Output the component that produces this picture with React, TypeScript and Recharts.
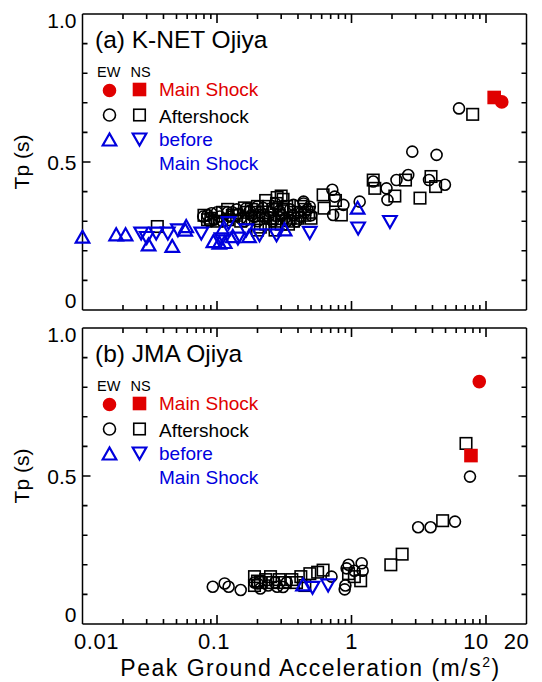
import React from 'react';
import { ScatterChart, Scatter, XAxis, YAxis } from 'recharts';

// [PGA (m/s^2), Tp (s)]
// (a) K-NET Ojiya
const knetMainEW = [[13.1, 0.703]];
const knetMainNS = [[11.5, 0.718]];
const knetAfterEW = [
  [6.3, 0.681], [2.83, 0.535], [4.29, 0.524], [4.95, 0.423], [3.77, 0.439], [2.64, 0.456],
  [2.16, 0.439], [1.82, 0.411], [1.85, 0.372], [1.45, 0.434], [1.15, 0.366], [0.72, 0.406],
  [0.75, 0.383], [0.87, 0.355], [0.73, 0.321], [0.44, 0.366], [0.49, 0.349], [0.079, 0.316],
  [0.091, 0.327], [0.088, 0.299], [0.105, 0.316], [0.12, 0.33], [0.13, 0.33], [0.15, 0.31],
  [0.165, 0.344], [0.21, 0.33], [0.23, 0.31], [0.28, 0.349], [0.33, 0.3], [0.37, 0.355],
  [0.37, 0.32], [0.44, 0.36], [0.47, 0.34], [0.18, 0.32], [0.25, 0.33], [0.3, 0.32],
  [0.4, 0.33], [0.095, 0.305], [0.14, 0.34], [0.2, 0.3], [0.1, 0.33], [0.11, 0.3],
  [0.125, 0.315], [0.145, 0.325], [0.16, 0.3], [0.175, 0.335], [0.19, 0.315], [0.22, 0.345],
  [0.24, 0.315], [0.26, 0.3], [0.29, 0.335], [0.32, 0.31], [0.35, 0.34], [0.39, 0.3],
  [0.42, 0.315], [0.45, 0.33], [0.5, 0.32], [0.27, 0.36], [0.2, 0.35], [0.085, 0.32],
];
const knetAfterNS = [
  [7.96, 0.661], [3.9, 0.451], [4.22, 0.417], [3.23, 0.378], [2.52, 0.439], [2.1, 0.385],
  [1.45, 0.439], [1.49, 0.411], [0.615, 0.389], [0.625, 0.344], [0.76, 0.37], [0.84, 0.321],
  [0.31, 0.374], [0.277, 0.36], [0.036, 0.282], [0.08, 0.32], [0.11, 0.33], [0.13, 0.32],
  [0.165, 0.33], [0.2, 0.35], [0.22, 0.32], [0.26, 0.34], [0.29, 0.32], [0.37, 0.33],
  [0.45, 0.32], [0.45, 0.34], [0.21, 0.28], [0.37, 0.3], [0.23, 0.37], [0.1, 0.3],
  [0.15, 0.3], [0.3, 0.29], [0.18, 0.34], [0.33, 0.35], [0.25, 0.31], [0.4, 0.31],
  [0.2, 0.27], [0.27, 0.27], [0.09, 0.31], [0.12, 0.305], [0.14, 0.32], [0.17, 0.31],
  [0.19, 0.33], [0.24, 0.35], [0.27, 0.3], [0.31, 0.34], [0.35, 0.31], [0.42, 0.35],
  [0.48, 0.33], [0.28, 0.38], [0.3, 0.385], [0.16, 0.345], [0.12, 0.34], [0.085, 0.305],
  [0.5, 0.31], [0.34, 0.29], [0.23, 0.29],
];
const knetBeforeEW = [
  [0.01, 0.246], [0.0178, 0.254], [0.0209, 0.254], [0.031, 0.22], [0.0465, 0.215], [0.059, 0.282],
  [0.058, 0.27], [0.094, 0.231], [0.104, 0.226], [0.114, 0.228], [0.11, 0.271], [0.131, 0.248],
  [0.173, 0.248], [0.318, 0.271], [1.11, 0.344],
];
const knetBeforeNS = [
  [0.0273, 0.26], [0.0353, 0.26], [0.0431, 0.26], [0.0512, 0.271], [0.0764, 0.26], [0.122, 0.295],
  [0.108, 0.24], [0.143, 0.243], [0.165, 0.271], [0.207, 0.254], [0.277, 0.254], [0.489, 0.262],
  [1.12, 0.277], [1.93, 0.299], [0.03, 0.245],
];

// (b) JMA Ojiya
const jmaMainEW = [[8.91, 0.819]];
const jmaMainNS = [[7.73, 0.569]];
const jmaAfterEW = [
  [7.6, 0.498], [5.88, 0.346], [3.87, 0.327], [3.13, 0.327], [1.19, 0.205], [1.21, 0.18],
  [0.92, 0.188], [0.89, 0.117], [0.093, 0.126], [0.114, 0.137], [0.122, 0.126], [0.15, 0.115],
  [0.28, 0.126], [0.2, 0.137], [0.71, 0.16], [1.05, 0.18], [0.95, 0.2], [0.24, 0.13],
  [0.33, 0.14], [0.9, 0.13], [0.21, 0.12], [0.27, 0.14], [0.31, 0.125], [0.19, 0.14],
];
const jmaAfterNS = [
  [7.1, 0.61], [4.76, 0.349], [2.38, 0.236], [1.96, 0.2], [1.17, 0.146], [0.95, 0.17],
  [0.615, 0.182], [0.49, 0.17], [0.19, 0.16], [0.19, 0.13], [0.23, 0.15], [0.29, 0.15],
  [0.36, 0.15], [0.39, 0.14], [0.26, 0.14], [0.56, 0.175], [0.21, 0.14], [1.05, 0.16],
  [0.2, 0.145], [0.25, 0.16], [0.32, 0.14], [0.42, 0.16], [0.45, 0.13],
];
const jmaBeforeEW = [[0.436, 0.132]];
const jmaBeforeNS = [[0.513, 0.124], [0.67, 0.132]];

// axis ticks
const xLabelTicks = [0.01, 0.1, 1, 10, 20];
const xMajorTicks = [0.1, 1, 10];
const xMinorTicks = [0.02, 0.03, 0.04, 0.05, 0.06, 0.07, 0.08, 0.09, 0.2, 0.3, 0.4, 0.5, 0.6, 0.7, 0.8, 0.9, 2, 3, 4, 5, 6, 7, 8, 9];
const yLabelTicks = [0, 0.5, 1];
const yMajorTicks = [0.5];
const yMinorTicks = [0.1, 0.2, 0.3, 0.4, 0.6, 0.7, 0.8, 0.9];
const yLabels: Record<string, string> = { '0': '0', '0.5': '0.5', '1': '1.0' };
// nudges of the tick labels, as in the original figure
const xLabelShift: Record<string, number> = { '0.01': 14, '0.1': -3, '1': 0, '10': -10, '20': -10 };
const yLabelShift: Record<string, number> = { '0': -9.5, '0.5': 0, '1': 6 };

const X_MIN = 0.01;
const X_MAX = 20;

const RED = '#e00000';
const BLUE = '#0000dd';
const FONT = '"Liberation Sans", Arial, sans-serif';

const pts = (arr: number[][]) => arr.map(([x, y]) => ({ x, y }));

// tick positions along the frame
const bottomMajor = xMajorTicks.map((x) => ({ x, y: 0 }));
const bottomMinor = xMinorTicks.map((x) => ({ x, y: 0 }));
const topMajor = xMajorTicks.map((x) => ({ x, y: 1 }));
const topMinor = xMinorTicks.map((x) => ({ x, y: 1 }));
const leftMajor = yMajorTicks.map((y) => ({ x: X_MIN, y }));
const leftMinor = yMinorTicks.map((y) => ({ x: X_MIN, y }));
const rightMajor = yMajorTicks.map((y) => ({ x: X_MAX, y }));
const rightMinor = yMinorTicks.map((y) => ({ x: X_MAX, y }));

const circle = (fill: string, stroke: string, r: number) => (p: any) => (
  <circle cx={p.cx} cy={p.cy} r={r} fill={fill} stroke={stroke} strokeWidth={1.6} />
);
const square = (fill: string, stroke: string, s: number) => (p: any) => (
  <rect x={p.cx - s / 2} y={p.cy - s / 2} width={s} height={s} fill={fill} stroke={stroke} strokeWidth={1.6} />
);
const triUp = (p: any) => (
  <polygon points={`${p.cx},${p.cy - 6.5} ${p.cx - 6.8},${p.cy + 5.5} ${p.cx + 6.8},${p.cy + 5.5}`} fill="none" stroke={BLUE} strokeWidth={2.2} />
);
const triDown = (p: any) => (
  <polygon points={`${p.cx},${p.cy + 6.5} ${p.cx - 6.8},${p.cy - 5.5} ${p.cx + 6.8},${p.cy - 5.5}`} fill="none" stroke={BLUE} strokeWidth={2.2} />
);
// inward tick mark from a frame point
const tickMark = (dx: number, dy: number) => (p: any) => (
  <polygon points={`${p.cx},${p.cy} ${p.cx + dx},${p.cy + dy}`} fill="none" stroke="#000" strokeWidth={1.6} />
);

const xTickLabel = (labels: boolean) => (props: any) => {
  const { x, y, payload } = props;
  const v = payload.value;
  if (!labels || !xLabelTicks.includes(v)) return <g />;
  return (
    <text x={x + (xLabelShift[String(v)] || 0)} y={y + 25} textAnchor="middle" fontSize={22} letterSpacing={0.5} fontFamily={FONT} fill="#000">
      {String(v)}
    </text>
  );
};

const yTickLabel = (props: any) => {
  const { x, y, payload } = props;
  const label = yLabels[String(payload.value)];
  if (!label) return <g />;
  return (
    <text x={x - 6} y={y + 7.5 + (yLabelShift[String(payload.value)] || 0)} textAnchor="end" fontSize={21} fontFamily={FONT} fill="#000">
      {label}
    </text>
  );
};

const emptyTick = () => <g />;
const frame = { stroke: '#000', strokeWidth: 1.5 };

function Legend({ title }: { title: string }) {
  return (
    <svg width={300} height={185} style={{ position: 'absolute', left: 0, top: 0, pointerEvents: 'none' }} fontFamily={FONT}>
      <text x={95} y={48} fontSize={24.5} fill="#000">{title}</text>
      <text x={97} y={77} fontSize={14.5} fill="#000">EW</text>
      <text x={130.5} y={77} fontSize={14.5} fill="#000">NS</text>
      {circle(RED, RED, 6)({ cx: 109.5, cy: 90.5 })}
      {square(RED, RED, 12)({ cx: 139.5, cy: 89.5 })}
      <text x={159} y={96} fontSize={19} fill={RED}>Main Shock</text>
      {circle('none', '#000', 6)({ cx: 109.5, cy: 115 })}
      {square('none', '#000', 11.5)({ cx: 139.5, cy: 115 })}
      <text x={159} y={122.5} fontSize={19} fill="#000">Aftershock</text>
      {triUp({ cx: 109.5, cy: 140 })}
      {triDown({ cx: 139.5, cy: 139 })}
      <text x={159} y={146} fontSize={19} fill={BLUE}>before</text>
      <text x={159} y={170} fontSize={19} fill={BLUE}>Main Shock</text>
    </svg>
  );
}

type PanelProps = {
  top: number;
  height: number;
  bottomAxis: number;
  labels: boolean;
  title: string;
  mainEW: number[][];
  mainNS: number[][];
  afterEW: number[][];
  afterNS: number[][];
  beforeEW: number[][];
  beforeNS: number[][];
};

// same plot area as the panel, axes hidden: only the inward tick marks, on top of everything
function TickOverlay({ height, bottomAxis }: { height: number; bottomAxis: number }) {
  return (
    <div style={{ position: 'absolute', left: 0, top: 0, pointerEvents: 'none' }}>
      <ScatterChart width={542} height={height} margin={{ top: 14, right: 15.5, bottom: bottomAxis, left: 82.5 }}>
        <XAxis xAxisId="b" dataKey="x" type="number" scale="log" domain={[X_MIN, X_MAX]} hide />
        <YAxis yAxisId="l" dataKey="y" type="number" domain={[0, 1]} hide />
        <Scatter xAxisId="b" yAxisId="l" data={bottomMajor} shape={tickMark(0, -9)} isAnimationActive={false} />
        <Scatter xAxisId="b" yAxisId="l" data={bottomMinor} shape={tickMark(0, -5)} isAnimationActive={false} />
        <Scatter xAxisId="b" yAxisId="l" data={topMajor} shape={tickMark(0, 9)} isAnimationActive={false} />
        <Scatter xAxisId="b" yAxisId="l" data={topMinor} shape={tickMark(0, 5)} isAnimationActive={false} />
        <Scatter xAxisId="b" yAxisId="l" data={leftMajor} shape={tickMark(8, 0)} isAnimationActive={false} />
        <Scatter xAxisId="b" yAxisId="l" data={leftMinor} shape={tickMark(5, 0)} isAnimationActive={false} />
        <Scatter xAxisId="b" yAxisId="l" data={rightMajor} shape={tickMark(-8, 0)} isAnimationActive={false} />
        <Scatter xAxisId="b" yAxisId="l" data={rightMinor} shape={tickMark(-5, 0)} isAnimationActive={false} />
      </ScatterChart>
    </div>
  );
}

function Panel(p: PanelProps) {
  return (
    <div style={{ position: 'absolute', left: 0, top: p.top, width: 542, height: p.height }}>
      <ScatterChart width={542} height={p.height} margin={{ top: 13, right: 14.5, bottom: 0, left: 0 }}>
        <XAxis
          xAxisId="b" orientation="bottom" dataKey="x" type="number" scale="log" domain={[X_MIN, X_MAX]}
          ticks={xLabelTicks} interval={0} height={p.bottomAxis}
          tickLine={false} tickSize={0} tickMargin={0} axisLine={frame} tick={xTickLabel(p.labels)}
          label={p.labels ? {
            content: (lp: any) => {
              const vb = lp.viewBox;
              return (
                <text x={vb.x + vb.width / 2 + 6} y={vb.y + 52} textAnchor="middle" fontSize={23} letterSpacing={1.5} fontFamily={FONT} fill="#000">
                  Peak Ground Acceleration (m/s<tspan dy={-9} fontSize={14}>2</tspan><tspan dy={9}>)</tspan>
                </text>
              );
            },
          } : undefined}
        />
        <XAxis
          xAxisId="t" orientation="top" dataKey="x" type="number" scale="log" domain={[X_MIN, X_MAX]}
          ticks={xLabelTicks} interval={0} height={1}
          tickLine={false} tickSize={0} tickMargin={0} axisLine={frame} tick={emptyTick}
        />
        <YAxis
          yAxisId="l" orientation="left" dataKey="y" type="number" domain={[0, 1]}
          ticks={yLabelTicks} interval={0} width={82.5}
          tickLine={false} tickSize={0} tickMargin={0} axisLine={frame} tick={yTickLabel}
          label={{
            content: (lp: any) => {
              const vb = lp.viewBox;
              return (
                <text transform={`translate(29, ${vb.y + vb.height / 2}) rotate(-90)`} textAnchor="middle" fontSize={21} fontFamily={FONT} fill="#000">
                  Tp (s)
                </text>
              );
            },
          }}
        />
        <YAxis
          yAxisId="r" orientation="right" dataKey="y" type="number" domain={[0, 1]}
          ticks={yLabelTicks} interval={0} width={1}
          tickLine={false} tickSize={0} tickMargin={0} axisLine={frame} tick={emptyTick}
        />
        <Scatter xAxisId="b" yAxisId="l" data={pts(p.afterNS)} shape={square('none', '#000', 11.5)} isAnimationActive={false} />
        <Scatter xAxisId="b" yAxisId="l" data={pts(p.afterEW)} shape={circle('none', '#000', 5.5)} isAnimationActive={false} />
        <Scatter xAxisId="b" yAxisId="l" data={pts(p.beforeNS)} shape={triDown} isAnimationActive={false} />
        <Scatter xAxisId="b" yAxisId="l" data={pts(p.beforeEW)} shape={triUp} isAnimationActive={false} />
        <Scatter xAxisId="b" yAxisId="l" data={pts(p.mainNS)} shape={square(RED, RED, 12)} isAnimationActive={false} />
        <Scatter xAxisId="b" yAxisId="l" data={pts(p.mainEW)} shape={circle(RED, RED, 6)} isAnimationActive={false} />
      </ScatterChart>
      <TickOverlay height={p.height} bottomAxis={p.bottomAxis} />
      <Legend title={p.title} />
    </div>
  );
}

export default function App() {
  return (
    <div style={{ position: 'absolute', left: 0, top: 0, width: 542, height: 682, background: '#fff', fontFamily: FONT }}>
      <Panel
        top={0} height={328} bottomAxis={18} labels={false} title="(a) K-NET Ojiya"
        mainEW={knetMainEW} mainNS={knetMainNS} afterEW={knetAfterEW} afterNS={knetAfterNS}
        beforeEW={knetBeforeEW} beforeNS={knetBeforeNS}
      />
      <Panel
        top={314} height={368} bottomAxis={58} labels={true} title="(b) JMA Ojiya"
        mainEW={jmaMainEW} mainNS={jmaMainNS} afterEW={jmaAfterEW} afterNS={jmaAfterNS}
        beforeEW={jmaBeforeEW} beforeNS={jmaBeforeNS}
      />
    </div>
  );
}
